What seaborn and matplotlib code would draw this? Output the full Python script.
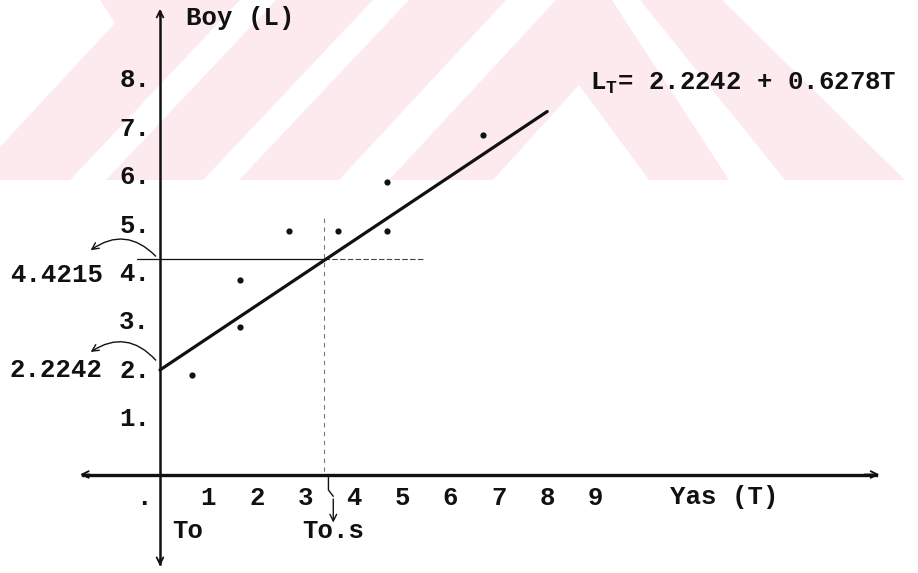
#!/usr/bin/env python3
"""
Age-length regression sketch: observed points, fitted line L_T = 2.2242 + 0.6278T
and the T0.5 reading, drawn in a typewriter style.
"""
import matplotlib
matplotlib.use('Agg')
import matplotlib.pyplot as plt
from matplotlib.patches import Polygon
import pandas as pd
import seaborn as sns

# Observed points (Yas T, Boy L)
age = [0.67, 1.65, 1.65, 2.67, 3.68, 4.69, 4.69, 6.67]
length = [2.06, 3.05, 4.02, 5.03, 5.03, 5.03, 6.04, 7.01]

# Fitted line as drawn on the page
fit_age = [0.0, 8.0]
fit_len = [2.16, 7.5]

# Reading at L = 4.4215 -> T0.5
read_age = 3.39
read_len = 4.45

xtick_pos = [-1.32, -0.33, 1, 2, 3, 4, 5, 6, 7, 8, 9, 10, 11]
xtick_lab = ['', '.', '1', '2', '3', '4', '5', '6', '7', '8', '9', '', '']
ytick_pos = [1, 2, 3, 4, 5, 6, 7, 8]
ytick_lab = ['1.', '2.', '3.', '4.', '5.', '6.', '7.', '8.']

equation = r'L$_\mathrm{T}$= 2.2242 + 0.6278T'

# Pale watermark shapes (pixel coords, top-left origin)
W, H = 918, 573
wm_pink = [(0, 0), (722, 0), (905, 180), (0, 180)]
wm_white = [
    [(0, 0), (100, 0), (115, 23), (0, 147)],
    [(240, 0), (276, 0), (106, 180), (70, 180)],
    [(373, 0), (409, 0), (239, 180), (203, 180)],
    [(506, 0), (556, 0), (389, 180), (339, 180)],
    [(612, 0), (640, 0), (785, 180), (729, 180)],
    [(579, 85), (649, 180), (493, 180)],
]

sns.set_theme(style='white')
plt.rcParams['font.family'] = ['Liberation Mono', 'DejaVu Sans Mono']
plt.rcParams['font.weight'] = 'bold'
plt.rcParams['mathtext.fontset'] = 'custom'
plt.rcParams['mathtext.rm'] = 'Liberation Mono:bold'
plt.rcParams['mathtext.it'] = 'Liberation Mono:bold'
plt.rcParams['mathtext.bf'] = 'Liberation Mono:bold'
FS = 18.5
INK = '#111111'

fig = plt.figure(figsize=(W / 100, H / 100), dpi=100)
ax = fig.add_axes([0, 0, 1, 1])
ax.set_facecolor('none')


def to_frac(pts):
    return [(x / W, 1 - y / H) for x, y in pts]


ax.add_patch(Polygon(to_frac(wm_pink), closed=True, transform=ax.transAxes,
                     facecolor='#fdeaee', edgecolor='none', zorder=0))
for shp in wm_white:
    ax.add_patch(Polygon(to_frac(shp), closed=True, transform=ax.transAxes,
                         facecolor='white', edgecolor='none', zorder=0.1))

pts = pd.DataFrame({'T': age, 'L': length})
fit = pd.DataFrame({'T': fit_age, 'L': fit_len})
sns.scatterplot(data=pts, x='T', y='L', s=20, color=INK, edgecolor=INK,
                linewidth=0, ax=ax, zorder=5)
sns.lineplot(data=fit, x='T', y='L', color=INK, lw=2.3, ax=ax, zorder=4)

# reading lines
ax.plot([-0.48, read_age], [read_len, read_len], color=INK, lw=0.9)
ax.plot([read_age, 5.48], [read_len, read_len], color='#444444', lw=0.8,
        ls=(0, (5, 2)))
ax.plot([read_age, read_age], [5.3, 0], color='#777777', lw=0.8,
        ls=(0, (4, 4)))

# axes through the origin
ax.set_xlim(-160 / 48.4, (W - 160) / 48.4)
ax.set_ylim((474.5 - H) / 48.4, 474.5 / 48.4)
for s in ['top', 'right']:
    ax.spines[s].set_visible(False)
ax.spines['left'].set_position(('data', 0))
ax.spines['bottom'].set_position(('data', 0))
ax.spines['left'].set_bounds(-1.85, 9.55)
ax.spines['bottom'].set_bounds(-1.6, 14.8)
ax.spines['left'].set_linewidth(1.8)
ax.spines['bottom'].set_linewidth(2.4)
ax.spines['left'].set_color(INK)
ax.spines['bottom'].set_color(INK)

ax.set_xticks(xtick_pos, xtick_lab)
ax.set_yticks(ytick_pos, ytick_lab)
ax.tick_params(axis='x', direction='in', length=4, width=1.4, color=INK,
               pad=8, labelsize=FS, labelcolor=INK)
ax.tick_params(axis='y', length=0, pad=7, labelsize=FS, labelcolor=INK)
for lab in ax.get_yticklabels():
    lab.set_verticalalignment('baseline')
ax.set_xlabel('')
ax.set_ylabel('')

arr = dict(arrowstyle='->', lw=1.3, color=INK, mutation_scale=12)
ax.annotate('', xy=(0, 9.68), xytext=(0, 9.4), arrowprops=arr)
ax.annotate('', xy=(0, -1.95), xytext=(0, -1.7), arrowprops=arr)
ax.annotate('', xy=(14.92, 0), xytext=(14.5, 0), arrowprops=arr)
ax.annotate('', xy=(-1.71, 0), xytext=(-1.4, 0), arrowprops=arr)

# curved arrows to the read-off values
curve = dict(arrowstyle='->', lw=1.0, color=INK, mutation_scale=12,
             connectionstyle='arc3,rad=0.45')
ax.annotate('', xy=(-1.48, 4.6), xytext=(-0.05, 4.47), arrowprops=curve)
ax.annotate('', xy=(-1.48, 2.5), xytext=(-0.05, 2.32), arrowprops=curve)

# zig-zag pointer down to T0.5
ax.plot([3.48, 3.48, 3.58], [0, -0.32, -0.45], color=INK, lw=1.0)
ax.annotate('', xy=(3.58, -1.05), xytext=(3.58, -0.45),
            arrowprops=dict(arrowstyle='->', lw=1.0, color=INK,
                            mutation_scale=12))

# texts
ax.text(0.54, 9.29, 'Boy (L)', fontsize=FS, color=INK, va='baseline')
ax.text(11.65, -0.47, 'Yas (T)', fontsize=FS, color=INK, ha='center',
        va='center')
ax.text(8.88, 7.94, equation, fontsize=FS, color=INK, va='baseline')
ax.text(0.25, -1.17, 'To', fontsize=FS, color=INK, va='center')
ax.text(2.93, -1.17, 'To.s', fontsize=FS, color=INK, va='center')
ax.text(-3.1, 3.98, '4.4215', fontsize=FS, color=INK, va='baseline')
ax.text(-3.1, 2.01, '2.2242', fontsize=FS, color=INK, va='baseline')

fig.savefig('out.png', dpi=100)
plt.close('all')
